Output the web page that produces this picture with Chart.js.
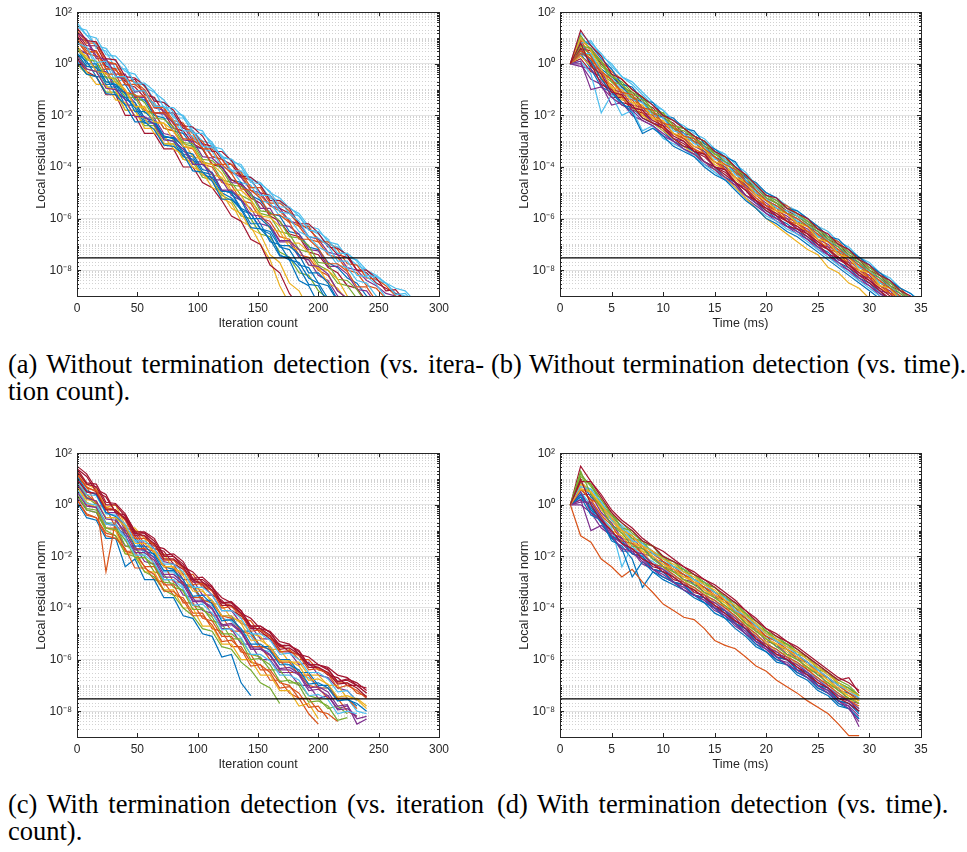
<!DOCTYPE html>
<html>
<head>
<meta charset="utf-8">
<script src="https://cdn.jsdelivr.net/npm/chart.js@4.4.1/dist/chart.umd.min.js"></script>
<style>
  body { margin: 0; background: #fff; width: 967px; height: 852px; position: relative; overflow: hidden; }
  canvas { position: absolute; }
  .cap { position: absolute; font-family: "Liberation Serif", "Times New Roman", serif; font-size: 26.5px; line-height: 27px; color: #000; }
  .just { text-align: justify; text-align-last: justify; }
  .one { white-space: nowrap; }
</style>
</head>
<body>
<canvas id="panelA" width="480" height="340" style="left:0;top:0"></canvas>
<canvas id="panelB" width="487" height="340" style="left:480px;top:0"></canvas>
<canvas id="panelC" width="480" height="340" style="left:0;top:441px"></canvas>
<canvas id="panelD" width="487" height="340" style="left:480px;top:441px"></canvas>

<div class="cap just" style="left:8px;top:351px;width:476px">(a) Without termination detection (vs. itera-</div>
<div class="cap one" style="left:8px;top:378px">tion count).</div>
<div class="cap one" style="left:491px;top:351px;word-spacing:1px">(b) Without termination detection (vs. time).</div>
<div class="cap just" style="left:8px;top:791px;width:476px">(c) With termination detection (vs. iteration</div>
<div class="cap one" style="left:8px;top:818px">count).</div>
<div class="cap one" style="left:497px;top:791px;word-spacing:3px">(d) With termination detection (vs. time).</div>

<script>
// values are log10 of the local residual norm
const thresholdValue = 3e-8;
const iterTicks = [0, 50, 100, 150, 200, 250, 300];
const timeTicks = [0, 5, 10, 15, 20, 25, 30, 35];
const yLabelExponents = [2, 0, -2, -4, -6, -8];

// (a) without termination detection, vs iteration count
const iterA = [0,8,16,24,32,40,48,56,64,72,80,88,96,104,112,120,128,136,144,152,160,168,176,184,192,200,208,216,224,232,240,248,256,264,272,280];
const a1 = [1.4,1.3,0.6,0.5,-0.2,-0.2,-0.8,-0.8,-1.4,-1.5,-2.1,-2.1,-2.6,-3.0,-3.1,-3.6,-3.7,-4.3,-4.4,-4.7,-5.2,-5.3,-5.8,-5.9,-6.4,-6.6,-7.0,-7.1,-7.5,-7.8,-8.0,-8.4,-8.5,-8.9,-9.0,-9.3];
const a2 = [1.2,0.7,0.7,0.0,0.0,-0.7,-0.6,-1.2,-1.3,-1.9,-1.9,-2.5,-2.6,-3.1,-3.2,-3.7,-3.9,-4.4,-4.5,-5.0,-5.1,-5.6,-5.8,-6.2,-6.4,-6.8,-7.0,-7.4,-7.5,-8.0,-8.1,-8.5,-8.7,-8.9,-9.1,-9.3];
const a3 = [1.0,0.9,0.2,0.2,-0.4,-0.4,-1.1,-1.0,-1.7,-1.8,-2.3,-2.4,-3.0,-3.1,-3.6,-3.7,-4.2,-4.4,-4.9,-5.0,-5.5,-5.6,-6.1,-6.2,-6.7,-6.8,-7.3,-7.4,-7.9,-8.0,-8.4,-8.6,-8.9,-9.0,-9.2];
const a4 = [1.3,0.8,0.8,0.1,0.0,-0.6,-0.7,-1.0,-1.6,-1.7,-2.2,-2.3,-2.9,-3.0,-3.6,-3.7,-4.2,-4.3,-4.9,-5.1,-5.5,-5.7,-6.1,-6.3,-6.8,-6.9,-7.4,-7.5,-8.0,-8.1,-8.6,-8.7,-9.1,-9.2];
const a5 = [0.8,0.6,-0.1,0.0,-0.7,-0.6,-1.2,-1.4,-1.5,-2.1,-2.2,-2.7,-2.8,-3.3,-3.4,-4.0,-4.1,-4.6,-4.7,-5.3,-5.4,-5.9,-6.0,-6.5,-6.7,-7.1,-7.3,-7.8,-7.9,-8.4,-8.5,-9.0,-9.2];
const a6 = [0.5,0.4,-0.3,-0.2,-0.9,-0.8,-1.4,-1.4,-2.0,-2.1,-2.6,-2.7,-3.2,-3.3,-3.9,-4.0,-4.5,-4.6,-5.1,-5.3,-5.8,-5.9,-6.5,-6.6,-7.1,-7.2,-7.7,-7.9,-8.3,-8.5,-9.0,-9.2];
const a7 = [1.1,0.6,0.5,-0.1,-0.2,-0.8,-0.9,-1.3,-1.9,-1.9,-2.5,-2.6,-3.1,-3.3,-3.9,-4.0,-4.5,-4.7,-5.2,-5.4,-5.9,-6.1,-6.6,-6.7,-7.3,-7.4,-7.9,-8.1,-8.6,-8.7,-9.2];
const a8 = [0.3,-0.1,-0.1,-0.7,-0.7,-1.3,-1.3,-1.9,-1.9,-2.5,-2.6,-3.1,-3.2,-3.8,-3.9,-4.5,-4.6,-5.1,-5.3,-5.8,-5.9,-6.5,-6.6,-7.2,-7.3,-7.8,-8.0,-8.5,-8.6,-9.1];
const a9 = [0.9,0.4,0.3,-0.4,-0.4,-1.1,-1.2,-1.8,-1.9,-2.5,-2.6,-3.2,-3.3,-3.9,-4.0,-4.6,-4.7,-5.3,-5.4,-6.0,-6.1,-6.7,-6.8,-7.4,-7.5,-8.0,-8.2,-8.8,-9.1];
const a10 = [0.6,0.4,-0.3,-0.3,-1.0,-1.1,-1.5,-2.1,-2.1,-2.7,-2.8,-3.2,-3.8,-3.8,-4.5,-4.5,-5.1,-5.3,-5.6,-6.2,-6.3,-6.9,-6.9,-7.5,-7.6,-8.2,-8.4,-9.0,-9.3];
const a11 = [0.2,-0.2,-0.3,-0.9,-0.9,-1.6,-1.6,-2.2,-2.3,-2.8,-2.9,-3.5,-3.6,-4.2,-4.3,-4.9,-5.0,-5.7,-5.8,-6.4,-6.5,-7.1,-7.2,-7.8,-7.9,-8.5,-8.6,-9.2];
const a12 = [0.7,0.2,0.1,-0.5,-0.6,-1.0,-1.7,-1.7,-2.3,-2.3,-3.0,-3.0,-3.6,-3.7,-4.3,-4.4,-5.0,-5.1,-5.7,-5.8,-6.4,-6.5,-7.1,-7.2,-7.8,-7.9,-8.5,-8.7,-9.2];
const a13 = [0.0,-0.4,-0.5,-1.1,-1.1,-1.8,-1.8,-2.4,-2.4,-3.1,-3.1,-3.7,-3.8,-4.4,-4.5,-5.1,-5.3,-5.9,-6.0,-6.6,-6.7,-7.3,-7.5,-8.1,-8.2,-8.8,-9.1];
const a14 = [0.4,0.1,-0.5,-0.5,-1.2,-1.3,-1.7,-2.3,-2.3,-2.9,-3.0,-3.6,-3.7,-4.3,-4.4,-5.0,-5.2,-5.6,-6.2,-6.2,-6.9,-7.0,-7.6,-7.7,-8.3,-8.5,-9.1];
const a15 = [0.4,-0.2,-0.3,-0.9,-1.0,-1.8,-1.8,-2.5,-2.5,-3.1,-3.1,-3.7,-3.8,-4.3,-4.5,-5.2,-5.4,-6.1,-6.3,-7.0,-7.6,-8.6,-9.3];
const a16 = [0.2,-0.3,-0.5,-1.2,-1.2,-2.0,-2.0,-2.7,-2.7,-3.3,-3.3,-4.0,-4.0,-4.6,-4.8,-5.3,-5.9,-6.1,-6.8,-7.0,-7.8,-8.1,-8.9,-9.4];
const a17 = [0.0,-0.3,-0.8,-0.8,-1.4,-1.5,-2.0,-2.1,-2.7,-2.8,-3.3,-3.5,-4.0,-4.2,-4.8,-5.0,-5.6,-5.8,-6.4,-6.6,-7.4,-7.7,-8.5,-8.8,-9.5];
const a18 = [0.6,0.0,0.0,-0.7,-0.8,-1.4,-1.5,-2.1,-2.2,-2.8,-2.9,-3.4,-3.5,-4.1,-4.2,-4.9,-5.0,-5.6,-5.8,-6.4,-6.6,-7.4,-7.6,-8.4,-8.6,-9.3];
const a19 = [1.5,1.1,0.7,0.6,0.1,-0.3,-0.4,-0.9,-1.1,-1.4,-1.9,-2.0,-2.5,-2.6,-3.2,-3.3,-3.8,-3.9,-4.5,-4.6,-5.0,-5.2,-5.6,-5.8,-6.3,-6.4,-6.9,-7.0,-7.5,-7.6,-8.0,-8.2,-8.5,-8.7,-8.8,-9.2];
const a20 = [0.9,0.4,0.5,-0.2,-0.2,-0.8,-0.8,-1.1,-1.7,-1.7,-2.35,-2.4,-2.7,-3.3,-3.3,-3.9,-3.9,-4.2,-4.8,-4.8,-5.4,-5.4,-5.7,-6.3,-6.3,-6.9,-6.9,-7.2,-7.75,-7.8,-8.3,-8.35,-8.6,-9.0,-9.1];
const a21 = [1.2,0.95,0.3,0.15,-0.5,-0.6,-1.3,-1.3,-1.9,-1.95,-2.3,-2.95,-3.0,-3.6,-3.65,-4.0,-4.6,-4.65,-5.0,-5.6,-5.6,-6.25,-6.3,-6.6,-7.2,-7.25,-7.85,-7.85,-8.15,-8.75,-8.8,-9.3];
const a22 = [0.6,0.15,0.1,-0.55,-0.55,-1.2,-1.2,-1.5,-2.1,-2.15,-2.45,-3.05,-3.1,-3.7,-3.75,-4.1,-4.7,-4.75,-5.05,-5.7,-5.75,-6.1,-6.7,-6.75,-7.05,-7.7,-7.75,-8.35,-8.4,-8.75,-9.3];
const a23 = [1.0,0.5,0.45,-0.2,-0.25,-0.6,-1.25,-1.25,-1.9,-1.9,-2.25,-2.9,-2.95,-3.25,-3.9,-3.9,-4.25,-4.85,-4.9,-5.2,-5.85,-5.85,-6.15,-6.8,-6.8,-7.15,-7.75,-7.75,-8.05,-8.65,-8.65,-9.2];
const a24 = [0.4,-0.1,-0.15,-0.8,-0.8,-1.15,-1.85,-1.85,-2.2,-2.85,-2.85,-3.2,-3.9,-3.9,-4.25,-4.95,-4.95,-5.3,-6.0,-6.0,-6.35,-7.05,-7.05,-7.4,-8.1,-8.1,-8.5,-9.15];
const a25 = [1.4,0.9,0.85,0.2,0.15,-0.5,-0.55,-0.85,-1.45,-1.5,-1.8,-2.4,-2.45,-2.8,-3.4,-3.4,-3.75,-4.35,-4.4,-4.7,-5.3,-5.3,-5.6,-6.2,-6.2,-6.55,-7.1,-7.15,-7.4,-8.0,-8.0,-8.3,-8.8,-8.75,-9.2];
const a26 = [0.8,0.65,0.05,0.1,-0.5,-0.5,-1.05,-1.05,-1.65,-1.65,-2.0,-2.6,-2.6,-3.2,-3.25,-3.55,-4.15,-4.15,-4.5,-5.1,-5.1,-5.75,-5.8,-6.1,-6.7,-6.75,-7.05,-7.65,-7.65,-8.2,-8.25,-8.55,-9.05,-9.1];
const a27 = [0.5,0.3,-0.3,-0.35,-0.7,-1.0,-1.65,-1.65,-2.25,-2.3,-2.6,-3.2,-3.25,-3.85,-3.9,-4.25,-4.9,-4.9,-5.25,-5.9,-5.95,-6.3,-6.95,-6.95,-7.3,-7.95,-8.0,-8.35,-9.0,-9.3];
const a28 = [0.1,-0.4,-0.5,-1.15,-1.2,-1.6,-2.25,-2.25,-2.55,-3.15,-3.2,-3.5,-4.15,-4.2,-4.55,-5.25,-5.25,-5.65,-6.35,-6.4,-6.8,-7.45,-7.5,-7.9,-8.55,-8.6,-9.3];
const a29 = [1.6,1.1,1.0,0.35,0.3,-0.1,-0.75,-0.75,-1.05,-1.7,-1.7,-2.05,-2.7,-2.7,-3.05,-3.65,-3.7,-4.0,-4.6,-4.65,-4.95,-5.55,-5.55,-5.9,-6.45,-6.5,-6.8,-7.35,-7.35,-7.65,-8.2,-8.25,-8.5,-8.95,-8.9,-9.3];
const a30 = [0.3,-0.2,-0.3,-0.95,-1.0,-1.4,-2.05,-2.05,-2.35,-2.95,-3.0,-3.3,-3.9,-3.9,-4.25,-4.9,-4.9,-5.25,-5.85,-5.9,-6.25,-6.85,-6.85,-7.2,-7.8,-7.85,-8.15,-8.8,-9.1];

// (b) without termination detection, vs time (ms)
const timeB = [1,2,3,4,5,6,7,8,9,10,11,12,13,14,15,16,17,18,19,20,21,22,23,24,25,26,27,28,29,30,31,32,33,34,35];
const b1 = [0,1.2,0.8,0.4,-0.1,-0.5,-0.7,-1.1,-1.5,-1.8,-2.2,-2.4,-2.7,-2.9,-3.3,-3.5,-3.9,-4.2,-4.7,-5.0,-5.2,-5.5,-5.7,-6.0,-6.3,-6.5,-6.9,-7.1,-7.5,-7.7,-8.1,-8.3,-8.7,-8.9,-9.2];
const b2 = [0,0.9,0.6,0.1,-0.3,-0.6,-1.0,-1.3,-1.6,-2.0,-2.2,-2.5,-2.8,-3.0,-3.4,-3.6,-4.0,-4.3,-4.7,-5.1,-5.3,-5.5,-5.8,-6.1,-6.3,-6.7,-6.9,-7.3,-7.5,-7.9,-8.1,-8.5,-8.7,-9.1];
const b3 = [0,0.6,0.5,0.0,-0.4,-0.9,-1.1,-1.5,-1.7,-2.1,-2.3,-2.7,-2.8,-3.2,-3.4,-3.8,-4.0,-4.5,-4.8,-5.2,-5.4,-5.7,-5.9,-6.2,-6.4,-6.8,-7.0,-7.4,-7.6,-8.0,-8.2,-8.6,-8.8,-9.2];
const b4 = [0,0.8,0.3,-0.2,-0.5,-0.9,-1.3,-1.5,-1.9,-2.1,-2.5,-2.7,-3.0,-3.2,-3.6,-3.8,-4.2,-4.5,-4.9,-5.3,-5.5,-5.8,-6.0,-6.3,-6.5,-6.9,-7.1,-7.5,-7.7,-8.1,-8.3,-8.7,-8.9,-9.3];
const b5 = [0,0.5,0.3,-0.4,-0.7,-1.1,-1.3,-1.7,-1.9,-2.3,-2.5,-2.8,-3.0,-3.4,-3.6,-4.0,-4.2,-4.7,-5.0,-5.3,-5.6,-5.8,-6.1,-6.3,-6.7,-6.9,-7.3,-7.5,-7.9,-8.1,-8.5,-8.7,-9.1];
const b6 = [0,0.3,0.0,-0.3,-1.0,-1.1,-1.6,-1.7,-2.1,-2.3,-2.7,-2.9,-3.2,-3.4,-3.8,-4.0,-4.4,-4.7,-5.1,-5.4,-5.7,-5.9,-6.2,-6.4,-6.8,-7.0,-7.4,-7.6,-8.0,-8.2,-8.6,-8.8,-9.2];
const b7 = [0,0.7,0.1,-0.6,-0.9,-1.4,-1.5,-2.0,-2.1,-2.5,-2.7,-3.0,-3.3,-3.5,-3.9,-4.1,-4.5,-4.8,-5.2,-5.5,-5.8,-6.0,-6.3,-6.5,-6.9,-7.1,-7.5,-7.7,-8.1,-8.3,-8.7,-8.9,-9.3];
const b8 = [0,0.2,-0.3,-0.5,-1.3,-1.3,-1.8,-1.9,-2.3,-2.5,-2.9,-3.1,-3.4,-3.6,-4.0,-4.2,-4.6,-4.9,-5.4,-5.6,-5.9,-6.1,-6.4,-6.6,-7.0,-7.2,-7.6,-7.8,-8.2,-8.4,-8.8,-9.1];
const b9 = [0,0.4,-0.2,-0.9,-1.1,-1.6,-1.7,-2.1,-2.3,-2.6,-3.0,-3.2,-3.4,-3.8,-4.0,-4.4,-4.6,-5.1,-5.4,-5.7,-6.0,-6.2,-6.5,-6.7,-7.1,-7.3,-7.7,-7.9,-8.3,-8.5,-8.9,-9.1];
const b10 = [0,0.0,-0.6,-0.8,-1.6,-1.5,-2.0,-2.2,-2.4,-2.8,-3.0,-3.3,-3.5,-3.9,-4.1,-4.5,-4.7,-5.2,-5.5,-5.8,-6.1,-6.3,-6.6,-6.8,-7.2,-7.4,-7.8,-8.0,-8.4,-8.6,-9.0,-9.2];
const b11 = [0,0.6,0.4,0.1,-0.5,-0.7,-1.1,-1.3,-1.8,-1.9,-2.4,-2.5,-2.9,-3.1,-3.4,-3.7,-4.0,-4.4,-4.8,-5.1,-5.4,-5.6,-5.9,-6.1,-6.4,-6.7,-7.0,-7.3,-7.6,-7.9,-8.2,-8.5,-8.8,-9.1];
const b12 = [0,0.9,0.3,-0.4,-0.6,-1.2,-1.3,-1.8,-1.9,-2.4,-2.5,-2.9,-3.0,-3.5,-3.6,-4.1,-4.2,-4.8,-5.0,-5.5,-5.6,-6.0,-6.1,-6.5,-6.6,-7.1,-7.2,-7.7,-7.8,-8.3,-8.4,-8.9,-9.0,-9.5];
const b13 = [0,-0.1,-0.2,-0.7,-1.2,-1.2,-1.7,-1.8,-2.3,-2.4,-2.9,-3.0,-3.4,-3.5,-4.0,-4.1,-4.6,-4.8,-5.3,-5.5,-5.9,-6.0,-6.4,-6.5,-7.0,-7.1,-7.6,-7.7,-8.2,-8.3,-8.8,-8.9,-9.4];
const b14 = [0,0.4,0.4,-0.3,-0.6,-1.0,-1.4,-1.5,-2.0,-2.1,-2.6,-2.7,-3.1,-3.2,-3.7,-3.8,-4.3,-4.5,-5.0,-5.2,-5.6,-5.7,-6.1,-6.2,-6.7,-6.8,-7.3,-7.4,-7.9,-8.0,-8.5,-8.6,-9.1];
const b15 = [0,0.1,-0.4,-1.9,-1.2,-2.0,-1.8,-2.6,-2.4,-2.9,-3.1,-3.3,-3.6,-3.9,-4.2,-4.5,-4.8,-5.2,-5.6,-5.9,-6.1,-6.4,-6.6,-6.9,-7.2,-7.5,-7.8,-8.1,-8.4,-8.7,-9.0,-9.3];
const b16 = [0,0.3,-0.1,-0.5,-1.0,-1.3,-1.7,-2.0,-2.3,-2.6,-2.9,-3.2,-3.5,-3.8,-4.1,-4.4,-4.8,-5.2,-5.6,-6.0,-6.3,-6.6,-6.9,-7.2,-7.4,-7.9,-8.1,-8.5,-8.7,-9.1];
const b17 = [0,1.0,0.7,0.2,-0.2,-0.8,-0.9,-1.4,-1.5,-2.0,-2.1,-2.5,-2.6,-3.1,-3.3,-3.6,-3.8,-4.4,-4.6,-5.0,-5.2,-5.6,-5.7,-6.0,-6.3,-6.7,-6.8,-7.2,-7.5,-7.8,-8.1,-8.4,-8.7,-8.9,-9.3];
const b18 = [0,0.6,0.0,-0.8,-1.0,-1.5,-1.6,-2.1,-2.3,-2.5,-2.9,-3.2,-3.3,-3.8,-4.0,-4.3,-4.6,-5.1,-5.3,-5.7,-5.9,-6.3,-6.4,-6.7,-7.0,-7.4,-7.5,-7.9,-8.2,-8.5,-8.8,-9.2];
const b19 = [0,1.1,0.5,0.1,-0.7,-0.8,-1.3,-1.4,-1.9,-2.0,-2.5,-2.6,-2.9,-3.2,-3.5,-3.8,-4.0,-4.6,-4.8,-5.2,-5.4,-5.8,-5.9,-6.2,-6.5,-6.8,-7.1,-7.4,-7.7,-8.0,-8.3,-8.6,-8.9,-9.2];
const b20 = [0,0.4,0.2,-0.6,-0.8,-1.3,-1.4,-1.9,-2.0,-2.5,-2.7,-2.9,-3.3,-3.5,-3.8,-4.1,-4.4,-4.8,-5.2,-5.5,-5.7,-6.1,-6.2,-6.5,-6.8,-7.2,-7.3,-7.8,-8.0,-8.3,-8.6,-8.9,-9.2];
const b21 = [0,0.8,0.9,0.3,0.0,-0.5,-0.8,-1.2,-1.6,-1.8,-2.2,-2.5,-2.8,-3.0,-3.4,-3.7,-4.0,-4.3,-4.8,-5.1,-5.3,-5.6,-5.9,-6.1,-6.4,-6.7,-7.0,-7.3,-7.6,-7.8,-8.2,-8.5,-8.8,-9.1];
const b22 = [0,0.1,-1.0,-0.9,-1.3,-1.6,-1.8,-2.2,-2.4,-2.7,-3.0,-3.3,-3.5,-3.8,-4.1,-4.4,-4.7,-5.1,-5.4,-5.8,-6.0,-6.3,-6.5,-6.8,-7.1,-7.4,-7.7,-8.0,-8.3,-8.6,-8.9,-9.2];
const b23 = [0,1.0,0.5,-0.2,-0.9,-1.0,-1.5,-1.6,-2.1,-2.2,-2.7,-2.8,-3.2,-3.3,-3.8,-3.9,-4.4,-4.6,-5.1,-5.3,-5.7,-5.8,-6.2,-6.3,-6.8,-6.9,-7.4,-7.5,-8.0,-8.1,-8.6,-8.7,-9.2];
const b24 = [0,0.7,0.6,-0.1,-0.4,-0.8,-1.2,-1.3,-1.8,-1.9,-2.4,-2.5,-2.8,-3.0,-3.5,-3.6,-4.1,-4.3,-4.7,-5.1,-5.3,-5.6,-5.8,-6.1,-6.4,-6.7,-7.0,-7.3,-7.6,-7.9,-8.2,-8.5,-8.8,-9.1];
const b25 = [0,0.5,0.1,-0.6,-1.1,-1.5,-1.9,-2.7,-2.5,-2.8,-3.2,-3.4,-3.6,-4.0,-4.3,-4.5,-4.9,-5.3,-5.6,-6.0,-6.2,-6.5,-6.7,-7.0,-7.3,-7.6,-7.9,-8.2,-8.5,-8.8,-9.1];
const b26 = [0,0.5,0.2,-0.3,-0.6,-1.1,-1.2,-1.7,-1.8,-2.3,-2.4,-2.8,-2.9,-3.3,-3.6,-3.9,-4.1,-4.6,-4.9,-5.3,-5.5,-5.8,-6.0,-6.3,-6.6,-6.9,-7.2,-7.5,-7.8,-8.1,-8.4,-8.7,-9.0,-9.3];
const b27 = [0,0.8,-0.1,-0.4,-1.1,-1.2,-1.7,-1.8,-2.2,-2.4,-2.8,-3.0,-3.4,-3.5,-4.0,-4.1,-4.6,-4.9,-5.3,-5.6,-5.8,-6.1,-6.3,-6.6,-6.9,-7.2,-7.5,-7.8,-8.1,-8.4,-8.7,-9.0,-9.3];
const b28 = [0,1.3,0.7,0.3,-0.4,-0.6,-1.0,-1.3,-1.6,-2.0,-2.2,-2.5,-2.8,-3.0,-3.4,-3.6,-4.0,-4.3,-4.7,-5.1,-5.2,-5.6,-5.8,-6.0,-6.4,-6.6,-7.0,-7.2,-7.6,-7.8,-8.2,-8.4,-8.8,-9.0,-9.4];

// (c) with termination detection, vs iteration count
const iterC = [0,8,16,24,32,40,48,56,64,72,80,88,96,104,112,120,128,136,144,152,160,168,176,184,192,200,208,216,224,232,240];
const c1 = [1.5,1.2,0.6,0.4,-0.3,-0.4,-1.0,-1.1,-1.6,-1.7,-2.0,-2.4,-2.6,-3.0,-3.2,-3.6,-3.8,-4.2,-4.4,-4.8,-4.9,-5.3,-5.4,-5.8,-5.9,-6.2,-6.3,-6.6,-6.7,-7.0,-7.1];
const c2 = [1.2,0.7,0.5,-0.1,-0.2,-0.9,-1.0,-1.5,-1.5,-2.1,-2.1,-2.7,-2.7,-3.2,-3.3,-3.8,-3.9,-4.4,-4.5,-5.0,-5.1,-5.5,-5.6,-6.0,-6.0,-6.4,-6.5,-6.9,-6.9,-7.3,-7.4];
const c3 = [1.0,0.5,0.4,-0.3,-0.3,-1.0,-1.1,-1.6,-1.7,-2.2,-2.3,-2.9,-2.9,-3.5,-3.5,-4.1,-4.1,-4.6,-4.7,-5.2,-5.2,-5.7,-5.7,-6.2,-6.1,-6.6,-6.7,-7.1,-7.2,-7.6];
const c4 = [1.3,0.8,0.6,-0.1,0.0,-0.8,-0.9,-1.3,-1.9,-1.9,-2.5,-2.6,-3.2,-3.3,-3.8,-3.9,-4.4,-4.5,-5.0,-5.1,-5.6,-5.6,-6.1,-6.1,-6.6,-6.6,-7.0,-7.0,-7.5,-7.5,-7.8];
const c5 = [0.8,0.3,0.1,-0.5,-0.5,-1.2,-1.3,-1.8,-1.9,-2.4,-2.5,-3.1,-3.1,-3.7,-3.7,-4.3,-4.3,-4.9,-4.9,-5.5,-5.5,-6.0,-6.0,-6.5,-6.5,-7.0,-7.0,-7.5,-7.5,-7.8];
const c6 = [0.5,0.1,-0.1,-0.7,-0.7,-1.4,-1.4,-1.9,-2.0,-2.6,-2.6,-3.2,-3.2,-3.8,-3.9,-4.4,-4.5,-5.0,-5.1,-5.6,-5.7,-6.1,-6.2,-6.6,-6.7,-7.1,-7.1,-7.6,-7.5,-8.0,-8.1];
const c7 = [1.1,0.7,0.0,-0.1,-0.9,-0.9,-1.7,-1.7,-2.3,-2.3,-3.0,-3.0,-3.6,-3.6,-4.3,-4.3,-4.9,-4.9,-5.5,-5.5,-6.0,-6.0,-6.5,-6.5,-7.0,-7.1,-7.5,-7.5,-8.0,-8.2];
const c8 = [0.3,-0.2,-0.3,-0.9,-1.0,-1.6,-1.6,-2.2,-2.3,-2.9,-2.9,-3.5,-3.6,-4.1,-4.2,-4.8,-4.8,-5.4,-5.4,-6.0,-6.0,-6.5,-6.5,-7.0,-7.0,-7.5,-7.4,-7.9,-7.8,-8.3,-8.2];
const c9 = [0.9,0.3,0.0,-0.7,-0.8,-1.6,-1.7,-2.0,-2.6,-2.7,-3.2,-3.3,-3.9,-4.0,-4.5,-4.6,-5.2,-5.2,-5.8,-5.9,-6.4,-6.4,-6.9,-6.9,-7.4,-7.5,-7.9,-7.8,-8.1];
const c10 = [0.6,0.0,-0.1,-0.9,-0.9,-1.8,-1.8,-2.4,-2.4,-3.1,-3.1,-3.8,-3.8,-4.4,-4.5,-5.1,-5.1,-5.7,-5.8,-6.4,-6.4,-6.9,-7.0,-7.5,-7.5,-8.0,-8.1,-8.4];
const c11 = [0.2,-0.4,-0.5,-1.1,-1.2,-1.8,-1.9,-2.4,-2.9,-3.0,-3.5,-3.6,-4.2,-4.2,-4.8,-4.9,-5.5,-5.5,-6.1,-6.2,-6.8,-6.8,-7.3,-7.5,-8.1,-8.5];
const c12 = [0.7,0.1,-0.1,-0.9,-1.0,-1.9,-1.9,-2.6,-2.6,-3.3,-3.3,-4.0,-4.0,-4.7,-4.7,-5.4,-5.4,-6.0,-6.0,-6.6,-6.6,-7.2,-7.2,-7.8,-7.7,-8.3];
const c13 = [0.4,-0.2,-0.3,-1.0,-1.2,-1.9,-2.0,-2.6,-2.8,-3.3,-3.5,-4.0,-4.3,-4.8,-4.9,-5.5,-5.6,-6.1,-6.4,-6.9,-7.1,-7.7];
const c14 = [0.1,-0.5,-0.6,-1.3,-1.3,-2.4,-2.1,-2.9,-2.9,-3.6,-3.6,-4.3,-4.4,-5.0,-5.1,-5.9,-5.8,-6.9,-7.4];
const c15 = [1.4,1.1,0.5,0.3,-0.3,-0.5,-1.1,-1.2,-1.7,-1.8,-2.3,-2.5,-2.9,-3.1,-3.5,-3.7,-4.1,-4.3,-4.7,-4.9,-5.2,-5.4,-5.7,-5.8,-6.2,-6.3,-6.6,-6.7,-7.0,-7.0,-7.3];
const c16 = [0.9,0.4,0.1,-2.6,-0.6,-1.1,-1.2,-1.7,-1.8,-2.4,-2.4,-3.1,-3.2,-3.7,-3.8,-4.3,-4.4,-4.9,-5.0,-5.5,-5.6,-6.1,-6.1,-6.6,-6.6,-7.1,-7.1,-7.5,-7.5,-7.9];
const c17 = [1.3,0.8,0.7,0.0,0.0,-0.45,-1.1,-1.1,-1.4,-2.0,-2.0,-2.3,-2.9,-2.9,-3.2,-3.8,-3.8,-4.1,-4.7,-4.7,-4.95,-5.45,-5.45,-5.7,-6.2,-6.2,-6.4,-6.85,-6.8,-7.0,-7.3];
const c18 = [0.9,0.4,0.35,-0.35,-0.4,-0.75,-1.4,-1.4,-1.7,-2.3,-2.3,-2.6,-3.2,-3.2,-3.5,-4.1,-4.1,-4.4,-5.0,-5.0,-5.25,-5.8,-5.75,-6.0,-6.5,-6.5,-6.75,-7.25,-7.2,-7.6];
const c19 = [1.1,0.55,0.4,-0.3,-0.45,-0.85,-1.6,-1.6,-1.95,-2.55,-2.55,-2.9,-3.55,-3.5,-3.85,-4.5,-4.45,-4.8,-5.4,-5.4,-5.65,-6.2,-6.2,-6.4,-6.95,-6.9,-7.1,-7.6,-7.55,-7.7,-8.0];
const c20 = [0.5,-0.05,-0.1,-0.75,-0.8,-1.2,-1.85,-1.85,-2.15,-2.8,-2.8,-3.1,-3.75,-3.75,-4.05,-4.7,-4.65,-4.95,-5.6,-5.6,-5.85,-6.4,-6.4,-6.6,-7.2,-7.15,-7.4,-7.95,-7.9,-8.2];
const c21 = [0.7,0.2,0.15,-0.5,-0.5,-0.85,-1.5,-1.5,-1.8,-2.4,-2.4,-2.75,-3.35,-3.35,-3.7,-4.3,-4.3,-4.6,-5.25,-5.25,-5.5,-6.05,-6.05,-6.25,-6.8,-6.75,-6.95,-7.45,-7.4,-7.55,-7.9];
const c22 = [1.2,0.65,0.55,-0.15,-0.2,-0.6,-1.3,-1.3,-1.55,-2.15,-2.15,-2.45,-3.1,-3.05,-3.35,-4.0,-3.95,-4.25,-4.9,-4.85,-5.1,-5.7,-5.65,-5.85,-6.4,-6.35,-6.55,-7.1,-7.0,-7.2,-7.5];
const c23 = [0.4,-0.15,-0.2,-0.9,-0.95,-1.35,-2.05,-2.05,-2.35,-3.0,-3.05,-3.35,-4.05,-4.05,-4.35,-5.0,-5.0,-5.3,-6.0,-5.95,-6.2,-6.85,-6.8,-7.0,-7.65,-7.6,-7.8,-8.35,-8.25];
const c24 = [0.8,0.25,0.15,-0.55,-0.6,-1.05,-1.75,-1.75,-2.05,-2.7,-2.7,-3.0,-3.7,-3.7,-4.0,-4.65,-4.6,-4.9,-5.55,-5.55,-5.8,-6.35,-6.3,-6.55,-7.1,-7.05,-7.25,-7.8,-7.75,-8.5,-8.3];
const c25 = [0.2,-0.35,-0.5,-1.2,-1.3,-1.7,-2.45,-2.45,-2.7,-3.35,-3.35,-3.7,-4.3,-4.3,-4.65,-5.3,-5.25,-5.6,-6.25,-6.2,-6.5,-7.1,-7.05,-7.3,-7.85,-7.8,-8.3];
const c26 = [1.0,0.5,0.45,-0.2,-0.2,-0.55,-1.2,-1.2,-1.5,-2.1,-2.1,-2.4,-3.0,-3.0,-3.3,-3.9,-3.9,-4.2,-4.8,-4.8,-5.05,-5.6,-5.55,-5.8,-6.3,-6.3,-6.5,-6.95,-6.9,-7.1,-7.45];
const c27 = [0.6,0.05,0.0,-0.75,-0.8,-1.25,-1.95,-1.95,-2.25,-2.9,-2.9,-3.25,-3.9,-3.85,-4.2,-4.85,-4.8,-5.15,-5.8,-5.8,-6.05,-6.6,-6.6,-6.8,-7.4,-7.35,-7.55,-8.1,-8.0,-8.1];
const c28 = [1.4,0.85,0.8,0.1,0.05,-0.35,-1.05,-1.05,-1.3,-1.95,-1.9,-2.2,-2.85,-2.8,-3.15,-3.8,-3.75,-4.1,-4.7,-4.7,-4.95,-5.5,-5.45,-5.65,-6.2,-6.2,-6.35,-6.85,-6.75,-6.9,-7.2];

// (d) with termination detection, vs time (ms)
const timeD = [1,2,3,4,5,6,7,8,9,10,11,12,13,14,15,16,17,18,19,20,21,22,23,24,25,26,27,28,29];
const d1 = [0,1.5,0.9,0.4,-0.2,-0.6,-0.9,-1.3,-1.6,-1.8,-2.1,-2.4,-2.6,-2.9,-3.1,-3.4,-3.7,-4.1,-4.4,-4.8,-5.0,-5.3,-5.5,-5.8,-6.1,-6.4,-6.7,-6.9,-7.2];
const d2 = [0,1.0,0.8,0.2,-0.4,-0.7,-1.1,-1.4,-1.6,-2.0,-2.2,-2.5,-2.7,-3.0,-3.2,-3.6,-3.8,-4.2,-4.5,-4.9,-5.1,-5.4,-5.6,-5.9,-6.2,-6.5,-6.8,-7.0,-7.4];
const d3 = [0,0.8,0.6,0.1,-0.5,-0.8,-1.2,-1.5,-1.8,-2.0,-2.4,-2.5,-2.9,-3.0,-3.4,-3.6,-3.9,-4.3,-4.6,-5.0,-5.2,-5.5,-5.7,-6.0,-6.3,-6.6,-6.9,-7.1,-7.5];
const d4 = [0,0.6,0.5,-0.1,-0.5,-1.0,-1.2,-1.6,-1.8,-2.2,-2.4,-2.7,-2.9,-3.2,-3.4,-3.7,-4.0,-4.4,-4.7,-5.1,-5.3,-5.6,-5.8,-6.1,-6.4,-6.7,-7.0,-7.3,-7.5];
const d5 = [0,0.9,0.3,-0.1,-0.8,-1.0,-1.5,-1.6,-2.1,-2.2,-2.6,-2.7,-3.1,-3.2,-3.6,-3.7,-4.2,-4.4,-4.9,-5.1,-5.5,-5.6,-6.0,-6.1,-6.6,-6.7,-7.2,-7.3,-7.6];
const d6 = [0,0.4,0.4,-0.3,-0.7,-1.3,-1.4,-1.9,-2.0,-2.4,-2.5,-2.9,-3.0,-3.4,-3.5,-4.0,-4.1,-4.6,-4.8,-5.3,-5.4,-5.8,-5.9,-6.4,-6.5,-7.0,-7.1,-7.6,-7.7];
const d7 = [0,0.7,0.1,-0.4,-1.0,-1.2,-1.7,-1.8,-2.3,-2.4,-2.8,-2.9,-3.3,-3.4,-3.8,-3.9,-4.4,-4.6,-5.1,-5.3,-5.7,-5.8,-6.2,-6.3,-6.8,-6.9,-7.4,-7.5,-7.9];
const d8 = [0,0.2,0.0,-0.7,-1.0,-1.5,-1.7,-2.0,-2.4,-2.5,-2.9,-3.0,-3.4,-3.5,-3.9,-4.1,-4.5,-4.7,-5.2,-5.4,-5.8,-5.9,-6.3,-6.5,-6.9,-7.1,-7.5,-7.6,-8.0];
const d9 = [0,0.5,-0.2,-0.5,-1.3,-1.4,-1.9,-2.0,-2.5,-2.6,-3.0,-3.1,-3.5,-3.6,-4.0,-4.2,-4.6,-4.8,-5.3,-5.5,-5.9,-6.0,-6.4,-6.6,-7.0,-7.2,-7.6,-7.7,-8.1];
const d10 = [0,0.0,-0.3,-0.9,-1.2,-1.8,-1.8,-2.3,-2.5,-2.8,-3.0,-3.2,-3.5,-3.7,-4.1,-4.3,-4.7,-5.0,-5.4,-5.6,-6.0,-6.1,-6.5,-6.7,-7.1,-7.3,-7.7,-7.8,-8.2];
const d11 = [0,0.3,-0.4,-0.6,-1.4,-1.6,-2.1,-3.2,-2.6,-2.9,-3.1,-3.3,-3.6,-3.8,-4.2,-4.4,-4.8,-5.1,-5.5,-5.7,-6.1,-6.2,-6.6,-6.8,-7.2,-7.4,-7.8,-7.9,-8.3];
const d12 = [0,1.2,0.7,0.2,-0.3,-0.9,-1.0,-1.5,-1.6,-2.1,-2.2,-2.6,-2.7,-3.1,-3.2,-3.6,-3.8,-4.3,-4.5,-4.9,-5.2,-5.4,-5.7,-5.9,-6.3,-6.5,-6.9,-7.1,-7.4];
const d13 = [0,0.5,0.0,-0.5,-0.9,-2.4,-1.6,-2.0,-2.2,-2.5,-2.7,-3.0,-3.2,-3.5,-3.7,-4.1,-4.3,-4.7,-5.0,-5.4,-5.6,-5.9,-6.1,-6.5,-6.7,-7.1,-7.3,-7.6,-7.9];
const d14 = [0,0.6,0.2,0.0,-0.6,-0.9,-1.3,-1.7,-1.9,-2.2,-2.5,-2.7,-3.0,-3.2,-3.5,-3.7,-4.1,-4.4,-4.8,-5.1,-5.3,-5.6,-5.9,-6.1,-6.5,-6.7,-7.0,-7.3,-7.6];
const d15 = [0,0.2,-1.0,-0.8,-1.2,-1.5,-1.9,-2.1,-2.5,-2.6,-3.0,-3.1,-3.5,-3.6,-4.0,-4.2,-4.6,-4.9,-5.3,-5.5,-5.9,-6.0,-6.4,-6.6,-7.0,-7.2,-7.6,-7.8,-8.6];
const d16 = [0,0.8,0.5,-0.2,-0.6,-1.1,-1.4,-1.8,-2.0,-2.3,-2.6,-2.8,-3.0,-3.3,-3.6,-3.8,-4.2,-4.5,-4.9,-5.2,-5.4,-5.7,-6.0,-6.3,-6.5,-6.8,-7.2,-7.4,-7.7];
const d17 = [0,-1.2,-1.45,-2.1,-2.4,-2.8,-2.5,-3.0,-3.4,-3.85,-4.1,-4.36,-4.45,-4.8,-5.26,-5.45,-5.58,-5.9,-6.25,-6.45,-6.8,-7.05,-7.3,-7.6,-7.85,-8.1,-8.5,-8.95,-8.95];
const d18 = [0,1.1,0.8,0.0,-0.4,-0.9,-1.3,-1.4,-1.9,-2.0,-2.4,-2.5,-2.9,-3.0,-3.4,-3.5,-4.0,-4.2,-4.7,-4.9,-5.3,-5.4,-5.8,-5.9,-6.4,-6.5,-7.0,-7.1,-7.4];
const d19 = [0,0.3,-0.1,-0.6,-1.2,-1.4,-1.9,-2.0,-2.5,-2.6,-3.0,-3.1,-3.5,-3.6,-4.0,-4.1,-4.6,-4.8,-5.3,-5.5,-5.9,-6.0,-6.4,-6.5,-7.0,-7.1,-7.6,-7.7,-8.0];
const d20 = [0,0.9,0.5,0.0,-0.6,-1.0,-1.5,-1.6,-2.0,-2.3,-2.5,-2.8,-2.9,-3.3,-3.5,-3.8,-4.1,-4.5,-4.8,-5.2,-5.4,-5.6,-5.9,-6.2,-6.5,-6.8,-7.1,-7.4,-7.6];
const d21 = [0,0.4,-0.2,-0.7,-1.3,-1.7,-2.8,-2.2,-2.6,-2.8,-3.0,-3.3,-3.5,-3.8,-4.0,-4.4,-4.6,-5.0,-5.4,-5.7,-6.0,-6.2,-6.5,-6.7,-7.1,-7.3,-7.7,-7.9,-8.3];
const d22 = [0,0.7,0.6,0.1,-0.6,-0.9,-1.4,-1.5,-1.9,-2.1,-2.4,-2.6,-2.9,-3.1,-3.4,-3.6,-4.1,-4.3,-4.7,-5.0,-5.3,-5.5,-5.8,-6.1,-6.4,-6.7,-7.0,-7.2,-7.5];
const d23 = [0,0.6,0.2,-0.4,-0.8,-1.4,-1.5,-1.9,-2.3,-2.4,-2.7,-3.0,-3.2,-3.5,-3.7,-4.0,-4.3,-4.7,-5.0,-5.4,-5.6,-5.9,-6.1,-6.4,-6.7,-7.0,-7.3,-7.6,-7.8];
const d24 = [0,0.9,0.9,0.3,-0.3,-0.7,-1.0,-1.4,-1.6,-2.0,-2.2,-2.4,-2.7,-2.9,-3.2,-3.5,-3.8,-4.1,-4.5,-4.8,-5.1,-5.3,-5.6,-5.9,-6.2,-6.5,-6.8,-6.7,-7.3];
const d25 = [0,0.1,0.1,-0.5,-1.1,-1.3,-1.8,-1.9,-2.3,-2.5,-2.8,-3.1,-3.3,-3.6,-3.8,-4.1,-4.4,-4.8,-5.1,-5.5,-5.7,-6.0,-6.2,-6.5,-6.8,-7.1,-7.4,-7.6,-7.9];
const d26 = [0,1.3,0.4,-0.1,-0.8,-1.1,-1.6,-1.7,-2.1,-2.4,-2.6,-2.9,-3.1,-3.4,-3.6,-3.9,-4.2,-4.6,-4.9,-5.2,-5.5,-5.8,-6.0,-6.3,-6.6,-6.9,-7.2,-7.5,-7.7];
const d27 = [0,0.5,-0.3,-0.6,-1.2,-1.7,-1.8,-2.2,-2.5,-2.7,-3.0,-3.3,-3.5,-3.7,-4.0,-4.3,-4.6,-5.0,-5.3,-5.6,-5.9,-6.2,-6.4,-6.7,-7.0,-7.3,-7.6,-7.9,-8.4];
const d28 = [0,0.6,0.5,0.0,-0.5,-1.0,-1.2,-1.6,-1.8,-2.1,-2.3,-2.6,-2.8,-3.1,-3.3,-3.7,-3.9,-4.3,-4.6,-5.0,-5.2,-5.5,-5.7,-6.0,-6.3,-6.6,-6.9,-7.2,-7.4];
const d29 = [0,1.0,0.0,-0.6,-1.0,-1.5,-1.7,-2.1,-2.3,-2.6,-2.8,-3.1,-3.3,-3.6,-3.9,-4.2,-4.5,-4.8,-5.2,-5.5,-5.8,-6.0,-6.3,-6.6,-6.9,-7.1,-7.5,-7.7,-8.0];

// MATLAB default line colours
const mBlue = '#0072BD', mOrange = '#D95319', mYellow = '#EDB120', mPurple = '#7E2F8E',
      mGreen = '#77AC30', mCyan = '#4DBEEE', mRed = '#A2142F';
const colorsA = [mCyan, mRed, mPurple, mOrange, mCyan, mBlue, mRed, mGreen, mOrange, mPurple, mBlue, mYellow, mGreen, mBlue, mYellow, mRed, mYellow, mBlue,
                 mCyan, mOrange, mPurple, mGreen, mOrange, mBlue, mRed, mCyan, mYellow, mBlue, mCyan, mPurple];
const colorsB = [mCyan, mOrange, mRed, mBlue, mGreen, mPurple, mYellow, mRed, mBlue, mPurple, mGreen, mOrange, mPurple, mCyan, mCyan, mYellow,
                 mBlue, mRed, mGreen, mOrange, mCyan, mPurple, mYellow, mGreen, mBlue, mOrange, mRed, mRed];
const colorsC = [mRed, mOrange, mPurple, mYellow, mBlue, mCyan, mOrange, mPurple, mGreen, mOrange, mOrange, mYellow, mGreen, mBlue, mRed, mOrange,
                 mRed, mCyan, mBlue, mPurple, mYellow, mOrange, mGreen, mPurple, mOrange, mRed, mCyan, mRed];
const colorsD = [mRed, mGreen, mCyan, mOrange, mBlue, mPurple, mYellow, mRed, mBlue, mPurple, mBlue, mGreen, mCyan, mOrange, mPurple, mYellow, mOrange,
                 mGreen, mBlue, mYellow, mBlue, mCyan, mOrange, mRed, mPurple, mGreen, mPurple, mYellow, mRed];

const axisFont = { family: "'Liberation Sans', Arial, Helvetica, sans-serif", size: 12 };
const titleFont = { family: "'Liberation Sans', Arial, Helvetica, sans-serif", size: 12.5, lineHeight: 1.2 };
const inkColor = '#262626';
const supDigits = { '0': '⁰', '1': '¹', '2': '²', '3': '³', '4': '⁴', '5': '⁵', '6': '⁶', '7': '⁷', '8': '⁸', '9': '⁹', '-': '⁻' };

function decadeOf(v) {
  const e = Math.log10(v);
  const r = Math.round(e);
  return Math.abs(e - r) < 1e-6 ? r : null;
}
function isLabelled(v) {
  const d = decadeOf(v);
  return d !== null && yLabelExponents.includes(d);
}
function powerLabel(v) {
  if (!isLabelled(v)) return '';
  return '10' + String(decadeOf(v)).split('').map(ch => supDigits[ch]).join('');
}

const framePlugin = {
  id: 'frame',
  afterDraw(chart) {
    const { ctx, chartArea: a, scales: { x, y } } = chart;
    ctx.save();
    ctx.strokeStyle = inkColor;
    ctx.lineWidth = 1;
    ctx.beginPath();
    x.ticks.forEach(t => {
      const px = Math.round(x.getPixelForValue(t.value)) + 0.5;
      ctx.moveTo(px, a.bottom); ctx.lineTo(px, a.bottom - 4);
      ctx.moveTo(px, a.top); ctx.lineTo(px, a.top + 4);
    });
    y.ticks.forEach(t => {
      const py = Math.round(y.getPixelForValue(t.value)) + 0.5;
      const len = isLabelled(t.value) ? 4 : 2;
      ctx.moveTo(a.left, py); ctx.lineTo(a.left + len, py);
      ctx.moveTo(a.right, py); ctx.lineTo(a.right - len, py);
    });
    ctx.stroke();
    ctx.strokeRect(Math.round(a.left) + 0.5, Math.round(a.top) + 0.5, Math.round(a.width), Math.round(a.height));
    ctx.restore();
  }
};

function makePanel(id, xs, runs, colors, xMax, xTicks, xTitle, padLeft, padRight) {
  const datasets = runs.map((run, i) => ({
    data: run.map((e, j) => ({ x: xs[j], y: Math.pow(10, e) })),
    borderColor: colors[i],
    borderWidth: 1.2,
    pointRadius: 0,
    tension: 0,
    order: runs.length - i + 1
  }));
  datasets.push({
    data: [{ x: 0, y: thresholdValue }, { x: xMax, y: thresholdValue }],
    borderColor: '#000',
    borderWidth: 1.3,
    pointRadius: 0,
    order: 0
  });
  new Chart(document.getElementById(id), {
    type: 'line',
    data: { datasets },
    options: {
      responsive: false,
      animation: false,
      devicePixelRatio: 1,
      layout: { padding: { left: padLeft, right: padRight, top: 11, bottom: 0 } },
      plugins: { legend: { display: false }, tooltip: { enabled: false } },
      scales: {
        x: {
          type: 'linear', min: 0, max: xMax,
          afterBuildTicks: s => { s.ticks = xTicks.map(v => ({ value: v })); },
          afterFit: s => { s.height = 44; },
          grid: { display: false, drawTicks: false },
          border: { display: false },
          ticks: { padding: 5, font: axisFont, color: inkColor, autoSkip: false, maxRotation: 0 },
          title: { display: true, text: xTitle, font: titleFont, color: inkColor, padding: { top: 0, bottom: 9 } }
        },
        y: {
          type: 'logarithmic', min: 1e-9, max: 1e2,
          afterFit: s => { s.width = 47; },
          grid: {
            drawTicks: false,
            lineWidth: 1,
            color: c => (c.tick && isLabelled(c.tick.value)) ? '#e3e3e3' : '#d2d2d2'
          },
          border: {
            display: false,
            dash: c => (c.tick && !isLabelled(c.tick.value)) ? [1, 2] : []
          },
          ticks: { autoSkip: false, padding: 5, font: axisFont, color: inkColor, callback: v => powerLabel(v) },
          title: { display: true, text: 'Local residual norm', font: titleFont, color: inkColor, padding: { top: 4.5, bottom: 0 } }
        }
      }
    },
    plugins: [framePlugin]
  });
}

makePanel('panelA', iterA, [a1, a2, a3, a4, a5, a6, a7, a8, a9, a10, a11, a12, a13, a14, a15, a16, a17, a18, a19, a20, a21, a22, a23, a24, a25, a26, a27, a28, a29, a30], colorsA, 300, iterTicks, 'Iteration count', 30, 41);
makePanel('panelB', timeB, [b1, b2, b3, b4, b5, b6, b7, b8, b9, b10, b11, b12, b13, b14, b15, b16, b17, b18, b19, b20, b21, b22, b23, b24, b25, b26, b27, b28], colorsB, 35, timeTicks, 'Time (ms)', 33, 46);
makePanel('panelC', iterC, [c1, c2, c3, c4, c5, c6, c7, c8, c9, c10, c11, c12, c13, c14, c15, c16, c17, c18, c19, c20, c21, c22, c23, c24, c25, c26, c27, c28], colorsC, 300, iterTicks, 'Iteration count', 30, 41);
makePanel('panelD', timeD, [d1, d2, d3, d4, d5, d6, d7, d8, d9, d10, d11, d12, d13, d14, d15, d16, d17, d18, d19, d20, d21, d22, d23, d24, d25, d26, d27, d28, d29], colorsD, 35, timeTicks, 'Time (ms)', 33, 46);
</script>
</body>
</html>
